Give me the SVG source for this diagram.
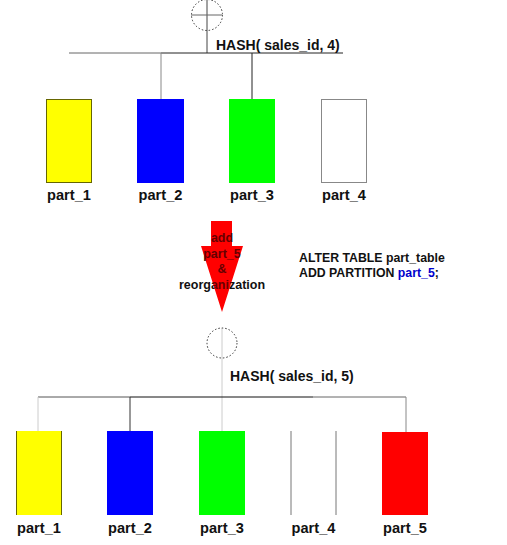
<svg xmlns="http://www.w3.org/2000/svg" width="507" height="545" viewBox="0 0 507 545">
<style>
.lbl{font-family:"Liberation Sans",Arial,sans-serif;font-weight:bold;font-size:14.6px;fill:#111;text-anchor:middle}
.hash{font-family:"Liberation Sans",Arial,sans-serif;font-weight:bold;font-size:14px;fill:#111}
.sql{font-family:"Liberation Sans",Arial,sans-serif;font-weight:bold;font-size:12.3px;fill:#111}
.al{font-family:"Liberation Sans",Arial,sans-serif;font-weight:bold;font-size:12.5px;text-anchor:middle}
.circ{fill:none;stroke:#333;stroke-width:1;stroke-dasharray:1.5 2}
</style>
<defs>
<path id="arrowShape" d="M211,221 H232 V246 H243 L222,312 L201,246 H211 Z"/>
<clipPath id="arrowClip"><use href="#arrowShape"/></clipPath>
</defs>

<g id="connectors" fill="none">
  <line x1="207" y1="0" x2="207" y2="53" stroke="#444"/>
  <line x1="69" y1="53" x2="161" y2="53" stroke="#666"/>
  <line x1="161" y1="53" x2="343" y2="53" stroke="#222"/>
  <line x1="161" y1="53" x2="161" y2="99" stroke="#888"/>
  <line x1="252" y1="53" x2="252" y2="99" stroke="#222"/>
  <line x1="222" y1="328" x2="222" y2="431" stroke="#ccc"/>
  <line x1="38" y1="397" x2="130" y2="397" stroke="#555"/>
  <line x1="130" y1="397" x2="313" y2="397" stroke="#111"/>
  <line x1="313" y1="397" x2="406" y2="397" stroke="#666"/>
  <line x1="38" y1="397" x2="38" y2="431" stroke="#ccc"/>
  <line x1="130" y1="397" x2="130" y2="431" stroke="#333"/>
  <line x1="406" y1="397" x2="406" y2="432" stroke="#888"/>
</g>

<g id="root-top">
  <circle class="circ" cx="207" cy="15" r="15.5"/>
  <line x1="191" y1="15" x2="222" y2="15" stroke="#666"/>
  <text class="hash" x="216" y="50">HASH( sales_id, 4)</text>
</g>

<g id="top-part_1">
  <rect x="46.5" y="99.5" width="45" height="83" fill="#ffff00" stroke="#666600"/>
  <text class="lbl" x="69" y="200">part_1</text>
</g>
<g id="top-part_2">
  <rect x="137" y="99" width="47" height="84" fill="#0000ff"/>
  <text class="lbl" x="160.5" y="200">part_2</text>
</g>
<g id="top-part_3">
  <rect x="229" y="99" width="46" height="84" fill="#00ff00"/>
  <text class="lbl" x="252" y="200">part_3</text>
</g>
<g id="top-part_4">
  <rect x="321.5" y="99.5" width="45" height="83" fill="#fff" stroke="#888"/>
  <text class="lbl" x="344" y="200">part_4</text>
</g>

<g id="arrow">
  <text class="al" x="222" y="242" fill="#111">add</text>
  <text class="al" x="222" y="258" fill="#111">part_5</text>
  <text class="al" x="222" y="273" fill="#111">&amp;</text>
  <text class="al" x="222" y="289" fill="#111">reorganization</text>
  <use href="#arrowShape" fill="#ff0000"/>
  <g clip-path="url(#arrowClip)" fill="#660000">
    <text class="al" x="222" y="242">add</text>
    <text class="al" x="222" y="258">part_5</text>
    <text class="al" x="222" y="273">&amp;</text>
    <text class="al" x="222" y="289">reorganization</text>
  </g>
</g>

<g id="sql">
  <text class="sql" x="299" y="262">ALTER TABLE part_table</text>
  <text class="sql" x="299" y="277">ADD PARTITION <tspan fill="#0000cc">part_5</tspan>;</text>
</g>

<g id="root-bottom">
  <circle class="circ" cx="222" cy="343" r="15"/>
  <text class="hash" x="230" y="381">HASH( sales_id, 5)</text>
</g>

<g id="bottom-part_1">
  <rect x="16" y="431" width="46" height="84" fill="#ffff00"/>
  <line x1="16.5" y1="431" x2="16.5" y2="515" stroke="#666600"/>
  <line x1="61.5" y1="431" x2="61.5" y2="515" stroke="#666600"/>
  <text class="lbl" x="39" y="533">part_1</text>
</g>
<g id="bottom-part_2">
  <rect x="107" y="431" width="46" height="84" fill="#0000ff"/>
  <text class="lbl" x="130" y="533">part_2</text>
</g>
<g id="bottom-part_3">
  <rect x="199" y="431" width="46" height="84" fill="#00ff00"/>
  <text class="lbl" x="222" y="533">part_3</text>
</g>
<g id="bottom-part_4">
  <line x1="291" y1="431" x2="291" y2="515" stroke="#777"/>
  <line x1="336" y1="431" x2="336" y2="515" stroke="#777"/>
  <text class="lbl" x="313.5" y="533">part_4</text>
</g>
<g id="bottom-part_5">
  <rect x="382" y="432" width="46" height="83" fill="#ff0000"/>
  <text class="lbl" x="405" y="533">part_5</text>
</g>
</svg>
